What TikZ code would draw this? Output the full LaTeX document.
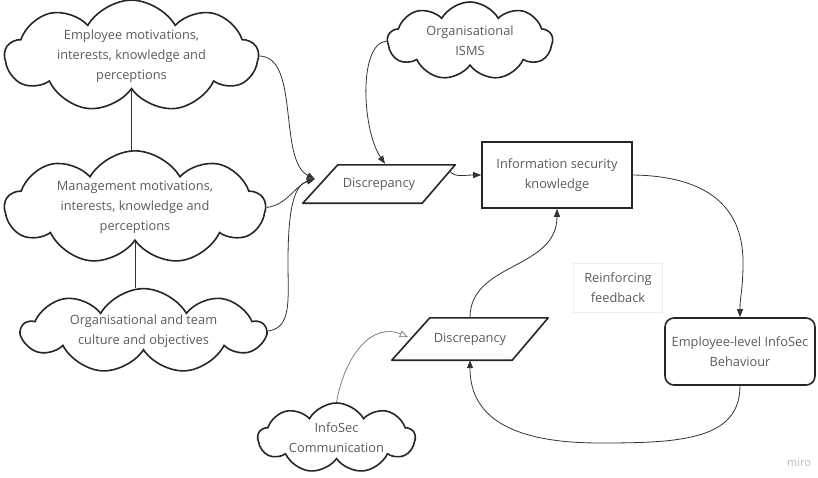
\documentclass[tikz,border=0pt]{standalone}
\usepackage{fontspec}
\setmainfont{Open Sans}
\usetikzlibrary{shapes.symbols,arrows.meta,calc}
\definecolor{ink}{HTML}{262626}
\definecolor{txt}{HTML}{5A5A5A}
\definecolor{wire}{HTML}{333333}
\begin{document}
\begin{tikzpicture}[x=1pt,y=-1pt,
  every node/.style={font=\fontsize{12.8}{20}\selectfont, text=txt, align=center, inner sep=0pt},
  cloudbox/.style={cloud, cloud puffs=9, cloud puff arc=120, cloud ignores aspect,
    draw=ink, line width=1.6pt},
  boxnode/.style={draw=ink, line width=1.6pt, minimum width=150pt, minimum height=66pt},
  slantbox/.style={minimum height=38pt},
  outline/.style={draw=ink, line width=1.6pt, line join=round},
  flow/.style={draw=wire, line width=0.8pt, -{Triangle[length=8pt,width=6pt]}},
  softflow/.style={draw=black!55, line width=0.7pt, -{Triangle[open,length=8pt,width=7pt]}},
  link/.style={draw=wire, line width=0.9pt}]
\useasboundingbox (0,0) rectangle (818,477);

% clouds on the left
\node[cloudbox, minimum width=253pt, minimum height=110pt] (emp) at (131.5,56)
  {Employee motivations,\\interests, knowledge and\\perceptions};
\node[cloudbox, minimum width=260pt, minimum height=110pt] (mgmt) at (135,207.5)
  {Management motivations,\\interests, knowledge and\\perceptions};
\node[cloudbox, minimum width=243pt, minimum height=78pt] (org) at (143.5,331)
  {Organisational and team\\culture and objectives};
\node[cloudbox, minimum width=165pt, minimum height=78pt] (isms) at (470,41)
  {Organisational\\ISMS};
\node[cloudbox, minimum width=157pt, minimum height=70pt] (comm) at (336.5,438)
  {InfoSec\\Communication};

\draw[link] (emp.south) -- (mgmt.north -| emp.south);
\draw[link] (mgmt.south) -- (org.north -| mgmt.south);

% discrepancy parallelograms
\node[slantbox, minimum width=152pt] (d1) at (379,184) {Discrepancy};
\draw[outline] ($(d1.north west)+(35,0)$) -- (d1.north east)
  -- ($(d1.south east)+(-33,0)$) -- (d1.south west) -- cycle;
\node[slantbox, minimum width=156pt, minimum height=42pt] (d2) at (470,339) {Discrepancy};
\draw[outline] ($(d2.north west)+(38,0)$) -- (d2.north east)
  -- ($(d2.south east)+(-36,0)$) -- (d2.south west) -- cycle;

% knowledge and behaviour boxes
\node[boxnode] (isk) at (557,175) {Information security\\knowledge};
\node[boxnode, rounded corners=9pt, minimum height=67pt] (elb) at (740,351.5)
  {Employee-level InfoSec\\Behaviour};
\node[draw=black!7, line width=0.6pt, minimum width=89pt, minimum height=49pt] (rf)
  at (618,287.5) {Reinforcing\\feedback};

% entry points on the slanted shapes
\coordinate (d1in) at ($(d1.west)+(12,-5)$);
\coordinate (d1top) at ($(d1.north)+(6,-1)$);
\coordinate (d1out) at ($(d1.north east)+(-6,6)$);
\coordinate (d2in) at ($(d2.west)+(16,-2)$);

% connectors
\draw[flow] (emp.east) .. controls (300,57) and (278,160) .. (d1in);
\draw[flow] (mgmt.east) .. controls (287,205) and (296,185) .. (d1in);
\draw[flow] (org.east) .. controls (292,328) and (288,300) .. (288,262)
  .. controls (288,205) and (295,185) .. (d1in);
\draw[flow] (isms.west) .. controls (358,44) and (362,130) .. (d1top);
\draw[flow] (d1out) .. controls (456,178) and (463,175) .. (isk.west);
\draw[flow] (isk.east) .. controls (705,176) and (743,205) .. (743,262)
  .. controls (743,290) and (740,295) .. (elb.north);
\draw[flow] (elb.south) .. controls (740,440) and (680,443) .. (600,443)
  .. controls (500,443) and (470,410) .. (d2.south);
\draw[flow] (d2.north) .. controls (470,262) and (557,270) .. (isk.south);
\draw[softflow] (comm.north) .. controls (345,355) and (372,322) .. (d2in);

\node[font=\fontsize{11}{12}\selectfont, text=black!28] (brand) at (799,463) {miro};
\end{tikzpicture}
\end{document}
